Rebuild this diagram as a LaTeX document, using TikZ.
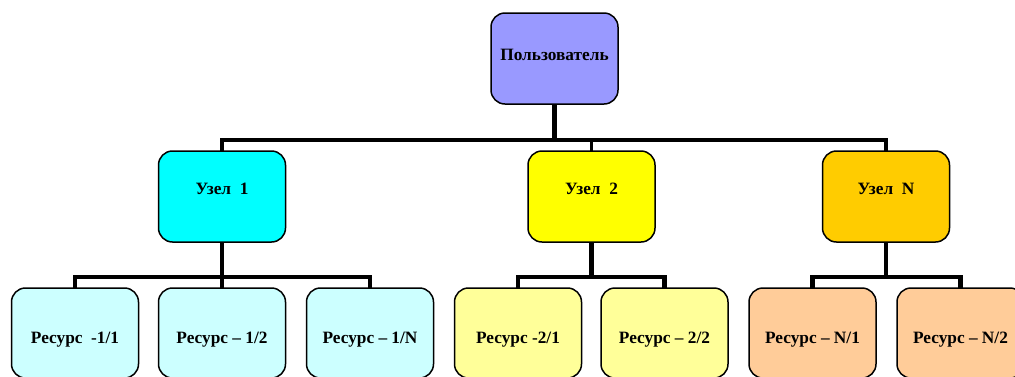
\documentclass[tikz,border=0pt]{standalone}
\usepackage{fontspec}
\setmainfont{Liberation Serif}
\usetikzlibrary{backgrounds}
\definecolor{ctop}{HTML}{9999FF}
\definecolor{cn1}{HTML}{00FFFF}
\definecolor{cn2}{HTML}{FFFF00}
\definecolor{cnN}{HTML}{FFCC00}
\definecolor{cr1}{HTML}{CCFFFF}
\definecolor{cr2}{HTML}{FFFF99}
\definecolor{crN}{HTML}{FFCC99}
\begin{document}
\begin{tikzpicture}[x=1pt,y=1pt,
  box/.style={draw=black,line width=1.5pt,rounded corners=14pt,inner sep=0pt,outer sep=0pt,
    minimum width=127pt,font=\fontsize{17.3}{20}\selectfont\bfseries,align=center},
  topbox/.style={box,text height=47pt,text depth=44pt},
  nodebox/.style={box,text height=43pt,text depth=48pt},
  resbox/.style={box,text height=55pt,text depth=35pt},
  bus/.style={line width=4.5pt,draw=black},
  stub/.style={line width=3.5pt,draw=black}]
\useasboundingbox (0,0) rectangle (1015,-376);
\clip (0,0) rectangle (1015,-376);
\node[topbox,fill=ctop,anchor=north] (top) at (554.5,-13) {Пользователь};
\node[nodebox,fill=cn1,anchor=north] (n1) at (222,-151) {Узел\ \ 1};
\node[nodebox,fill=cn2,anchor=north] (n2) at (591.5,-151) {Узел\ \ 2};
\node[nodebox,fill=cnN,anchor=north] (nN) at (886,-151) {Узел\ \ N};
\node[resbox,fill=cr1,anchor=north] (r11) at (75,-288) {Ресурс\ \ -1/1};
\node[resbox,fill=cr1,anchor=north] (r12) at (222,-288) {Ресурс – 1/2};
\node[resbox,fill=cr1,anchor=north] (r1N) at (370,-288) {Ресурс – 1/N};
\node[resbox,fill=cr2,anchor=north] (r21) at (518,-288) {Ресурс -2/1};
\node[resbox,fill=cr2,anchor=north] (r22) at (664.5,-288) {Ресурс – 2/2};
\node[resbox,fill=crN,anchor=north] (rN1) at (812.5,-288) {Ресурс – N/1};
\node[resbox,fill=crN,anchor=north] (rN2) at (960.5,-288) {Ресурс – N/2};
\coordinate (busA) at (554.5,-140);
\coordinate (b1) at (222,-277);
\coordinate (b2) at (591.5,-277);
\coordinate (bN) at (886,-277);
\begin{scope}[on background layer]
\fill[white] (0,0) rectangle (1015,-376);
\draw[bus] (top.south) -- (busA);
\draw[bus] (n1.north) |- (busA) -| (nN.north);
\draw[stub] (busA -| n2.north) -- (n2.north);
\draw[bus] (n1.south) -- (b1);
\draw[bus] (r11.north) |- (b1) -| (r1N.north);
\draw[bus] (b1) -- (r12.north);
\draw[bus] (n2.south) -- (b2);
\draw[bus] (r21.north) |- (b2) -| (r22.north);
\draw[bus] (nN.south) -- (bN);
\draw[bus] (rN1.north) |- (bN) -| (rN2.north);
\end{scope}
\end{tikzpicture}
\end{document}
